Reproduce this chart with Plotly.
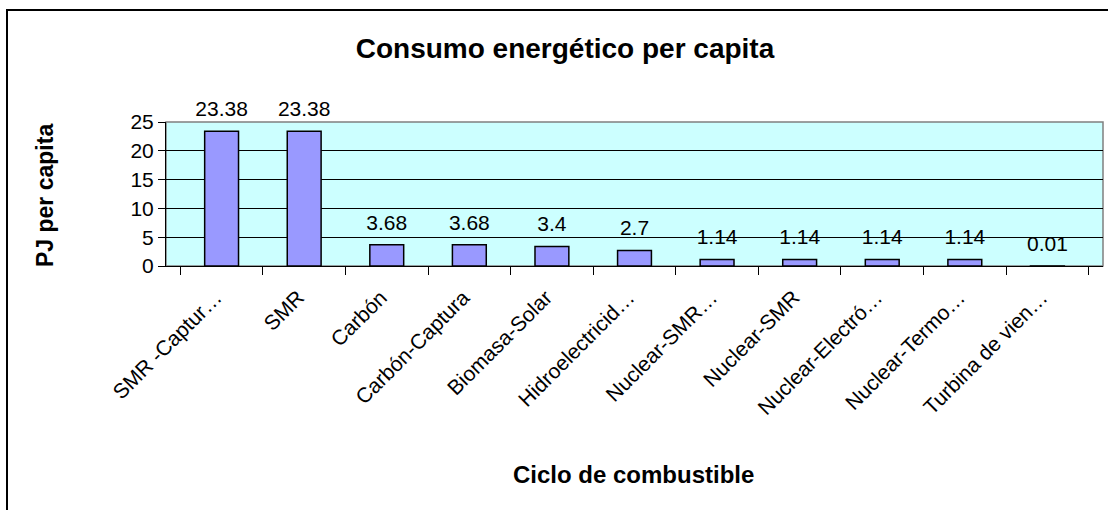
import plotly.graph_objects as go

categories = ["SMR -Captur…", "SMR", "Carbón", "Carbón-Captura", "Biomasa-Solar",
              "Hidroelectricid…", "Nuclear-SMR…", "Nuclear-SMR", "Nuclear-Electró…",
              "Nuclear-Termo…", "Turbina de vien…"]
values = [23.38, 23.38, 3.68, 3.68, 3.4, 2.7, 1.14, 1.14, 1.14, 1.14, 0.01]
y_ticks = [0, 5, 10, 15, 20, 25]

W, H = 1108, 510
L, R, T, B = 166, 5, 122, 244
pw = W - L - R
ph = H - T - B

def px_x(p):
    return (p - L) / pw

def px_y(p):
    return (H - B - p) / ph

FONT = "Liberation Sans, Arial, sans-serif"

fig = go.Figure()
fig.add_trace(go.Bar(
    x=categories, y=values,
    marker=dict(color="#9999FF", line=dict(color="black", width=1.5)),
    hoverinfo="x+y",
))
fig.add_trace(go.Scatter(
    x=categories, y=values, mode="markers+text",
    text=[str(v) for v in values], textposition="top center",
    textfont=dict(family=FONT, size=21, color="black"),
    marker=dict(size=14, opacity=0, color="black"),
    cliponaxis=False, hoverinfo="skip",
))

fig.update_layout(
    width=W, height=H,
    margin=dict(l=L, r=R, t=T, b=B),
    paper_bgcolor="white", plot_bgcolor="#CCFFFF",
    bargap=0.59, showlegend=False,
    font=dict(family=FONT, color="black"),
    title=dict(text="<b>Consumo energético per capita</b>",
               x=565 / W, xref="container", xanchor="center",
               y=1 - 48 / H, yref="container", yanchor="middle",
               font=dict(size=28, family=FONT, color="black")),
    xaxis=dict(tickangle=-45, tickfont=dict(size=21, family=FONT, color="black"),
               showline=True, linecolor="black", linewidth=1,
               ticks="outside", ticklen=8, tickcolor="black", tickson="boundaries",
               ticklabelstandoff=10, ticklabelshift=-6,
               showgrid=False, automargin=False),
    yaxis=dict(range=[0, 25], tickvals=y_ticks,
               tickfont=dict(size=21, family=FONT, color="black"),
               showline=True, linecolor="black", linewidth=1,
               ticks="outside", ticklen=7, tickcolor="black",
               showgrid=True, gridcolor="black", gridwidth=1,
               zeroline=False, automargin=False),
    shapes=[
        dict(type="rect", xref="paper", yref="paper", x0=0, x1=1, y0=0, y1=1,
             line=dict(color="#808080", width=1.5), layer="below"),
        dict(type="rect", xref="paper", yref="paper",
             x0=px_x(7), x1=px_x(W + 10), y0=px_y(H + 10), y1=px_y(10),
             line=dict(color="black", width=2)),
    ],
    annotations=[
        dict(text="<b>Ciclo de combustible</b>", xref="paper", yref="paper",
             x=px_x(633), y=px_y(474), xanchor="center", yanchor="middle",
             showarrow=False, font=dict(size=24, family=FONT, color="black")),
        dict(text="<b>PJ per capita</b>", xref="paper", yref="paper",
             x=px_x(45), y=px_y(195), xanchor="center", yanchor="middle",
             textangle=-90, showarrow=False,
             font=dict(size=23, family=FONT, color="black")),
    ],
)

fig.write_html("out.html", config={"displayModeBar": False},
               post_script="document.body.style.margin='0';document.body.style.overflow='hidden';")
